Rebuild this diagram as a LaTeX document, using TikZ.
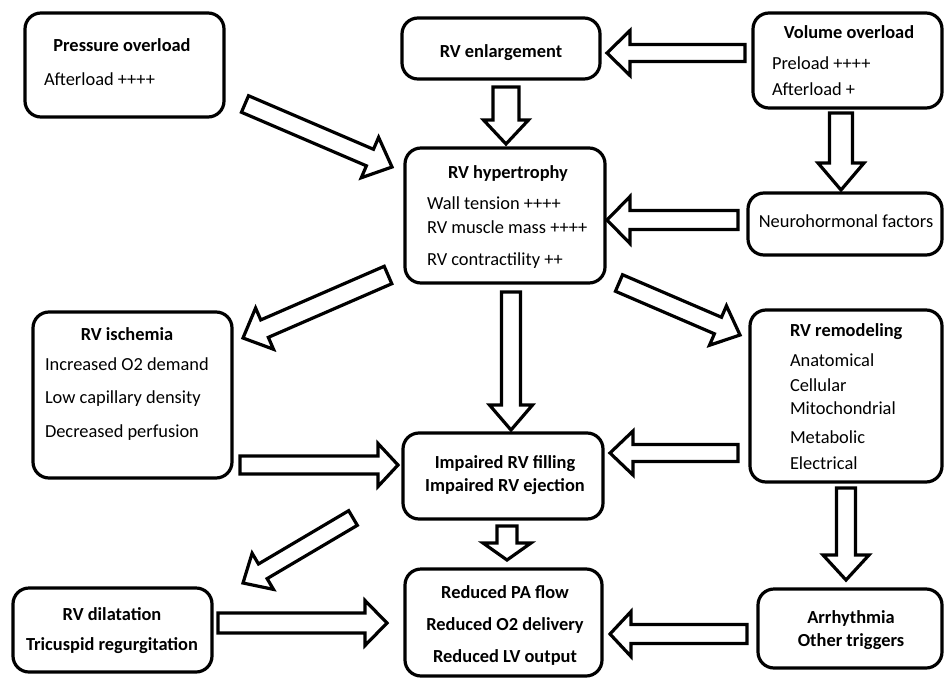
\documentclass[tikz,border=0pt]{standalone}
\usepackage{fontspec}
\setmainfont{Carlito}
\usetikzlibrary{calc}
\tikzset{
  box/.style={draw, line width=3.2pt, rounded corners=16pt, inner sep=0pt, outer sep=0pt},
  txt/.style={inner sep=0pt, outer sep=0pt, font=\fontsize{18.4}{22}\selectfont},
  ttl/.style={txt, font=\fontsize{18.4}{22}\selectfont\bfseries},
  blockarr/.style={draw, line width=3.2pt, fill=white, line join=miter}
}
\newcommand\blockarrow[5]{%
  \path ($(#2)!#5pt!(#1)$) coordinate (hb);
  \draw[blockarr] ($(#1)!#3pt!90:(#2)$) -- ($(hb)!#3pt!90:(#2)$) -- ($(hb)!#4pt!90:(#2)$) -- (#2)
    -- ($(hb)!#4pt!-90:(#2)$) -- ($(hb)!#3pt!-90:(#2)$) -- ($(#1)!#3pt!-90:(#2)$) -- cycle;
}
\newcommand\boxat[5]{% name, x1, y1, x2, y2
  \node[box, minimum width={(#4-#2)*1pt}, minimum height={(#5-#3)*1pt}] (#1) at ({(#2+#4)/2},{(#3+#5)/2}) {};
}
\begin{document}
\begin{tikzpicture}[x=1pt,y=-1pt]
\useasboundingbox (0,0) rectangle (944,677);

% boxes
\boxat{pres}{25}{13}{224}{117}
\boxat{enl}{402}{18}{600}{79}
\boxat{vol}{753}{13}{942}{108}
\boxat{neuro}{748}{193}{942}{255}
\boxat{hyp}{405}{148}{605}{283}
\boxat{isch}{33}{312}{232}{478}
\boxat{remod}{750}{310}{942}{482}
\boxat{imp}{403}{433}{603}{519}
\boxat{red}{405}{569}{602}{676}
\boxat{arr}{758}{589}{942}{668}
\boxat{dil}{13}{588}{212}{672}

% texts
\node[ttl, anchor=base] (pres-t) at (122,52) {Pressure overload};
\node[txt, anchor=base west] (pres-1) at (44,85) {Afterload ++++};

\node[ttl, anchor=base] (enl-t) at (501,57) {RV enlargement};

\node[ttl, anchor=base] (vol-t) at (849,39) {Volume overload};
\node[txt, anchor=base west] (vol-1) at (772,70) {Preload ++++};
\node[txt, anchor=base west] (vol-2) at (772,95) {Afterload +};

\node[txt, anchor=base] (neuro-t) at (846,227) {Neurohormonal factors};

\node[ttl, anchor=base] (hyp-t) at (508,178) {RV hypertrophy};
\node[txt, anchor=base west] (hyp-1) at (427,209) {Wall tension ++++};
\node[txt, anchor=base west] (hyp-2) at (427,233) {RV muscle mass ++++};
\node[txt, anchor=base west] (hyp-3) at (427,265) {RV contractility ++};

\node[ttl, anchor=base] (isch-t) at (127,340) {RV ischemia};
\node[txt, anchor=base west] (isch-1) at (45,370) {Increased O2 demand};
\node[txt, anchor=base west] (isch-2) at (45,403) {Low capillary density};
\node[txt, anchor=base west] (isch-3) at (45,437) {Decreased perfusion};

\node[ttl, anchor=base west] (remod-t) at (790,336) {RV remodeling};
\node[txt, anchor=base west] (remod-1) at (790,366) {Anatomical};
\node[txt, anchor=base west] (remod-2) at (790,391) {Cellular};
\node[txt, anchor=base west] (remod-3) at (790,414) {Mitochondrial};
\node[txt, anchor=base west] (remod-4) at (790,443) {Metabolic};
\node[txt, anchor=base west] (remod-5) at (790,469) {Electrical};

\node[ttl, anchor=base] (imp-1) at (505,468) {Impaired RV filling};
\node[ttl, anchor=base] (imp-2) at (505,491) {Impaired RV ejection};

\node[ttl, anchor=base] (red-1) at (505,598) {Reduced PA flow};
\node[ttl, anchor=base] (red-2) at (505,630) {Reduced O2 delivery};
\node[ttl, anchor=base] (red-3) at (505,662) {Reduced LV output};

\node[ttl, anchor=base] (arr-1) at (851,623) {Arrhythmia};
\node[ttl, anchor=base] (arr-2) at (851,646) {Other triggers};

\node[ttl, anchor=base] (dil-1) at (112,620) {RV dilatation};
\node[ttl, anchor=base] (dil-2) at (112,650) {Tricuspid regurgitation};

% arrow end points
\coordinate (a1t) at (245,104);  \coordinate (a1h) at (392,167);
\coordinate (a2t) at (745,53);   \coordinate (a2h) at (607,53);
\coordinate (a3t) at (506,87);   \coordinate (a3h) at (506,144);
\coordinate (a4t) at (841,113);  \coordinate (a4h) at (841,190);
\coordinate (a5t) at (738,220);  \coordinate (a5h) at (607,220);
\coordinate (a6t) at (388,275);  \coordinate (a6h) at (243,338);
\coordinate (a7t) at (511,292);  \coordinate (a7h) at (511,430);
\coordinate (a8t) at (619,283);  \coordinate (a8h) at (740,335);
\coordinate (a9t) at (240,465);  \coordinate (a9h) at (398,465);
\coordinate (a10t) at (738,453); \coordinate (a10h) at (610,453);
\coordinate (a11t) at (353,518); \coordinate (a11h) at (243,583);
\coordinate (a12t) at (507,526); \coordinate (a12h) at (507,560);
\coordinate (a13t) at (218,623); \coordinate (a13h) at (387,623);
\coordinate (a14t) at (846,488); \coordinate (a14h) at (846,580);
\coordinate (a15t) at (747,634); \coordinate (a15h) at (610,634);

\blockarrow{a1t}{a1h}{9}{22}{24}
\blockarrow{a2t}{a2h}{8.5}{22.5}{23}
\blockarrow{a3t}{a3h}{13}{22.5}{24}
\blockarrow{a4t}{a4h}{11.5}{23}{27}
\blockarrow{a5t}{a5h}{9.5}{23.5}{23}
\blockarrow{a6t}{a6h}{9.5}{22.5}{23.5}
\blockarrow{a7t}{a7h}{9.5}{21.5}{25}
\blockarrow{a8t}{a8h}{9}{21.5}{24}
\blockarrow{a9t}{a9h}{9}{21.5}{20}
\blockarrow{a10t}{a10h}{8.5}{22}{23}
\blockarrow{a11t}{a11h}{8.5}{21}{23}
\blockarrow{a12t}{a12h}{10}{24}{17}
\blockarrow{a13t}{a13h}{10}{22.5}{22}
\blockarrow{a14t}{a14h}{9.5}{23}{25}
\blockarrow{a15t}{a15h}{9.5}{22.5}{21}
\end{tikzpicture}
\end{document}
